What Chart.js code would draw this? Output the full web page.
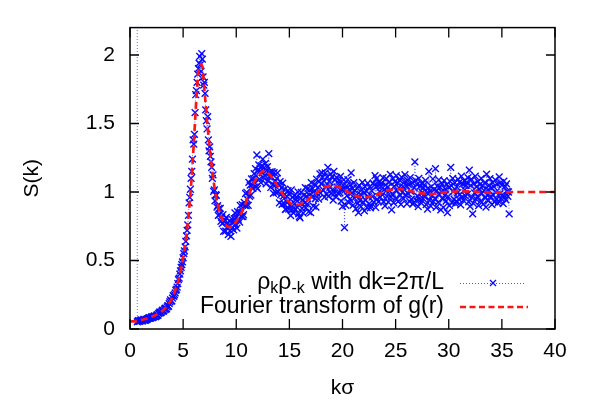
<!DOCTYPE html>
<html>
<head>
<meta charset="utf-8">
<script src="https://cdn.jsdelivr.net/npm/chart.js@4.4.1/dist/chart.umd.min.js"></script>
<style>
  html, body { margin: 0; padding: 0; background: #fff; }
  #wrap { width: 589px; height: 401px; }
</style>
</head>
<body>
<div id="wrap"><canvas id="chart" width="589" height="401"></canvas></div>
<script>
// ============================================================================
// S(k): rho_k rho_-k on the dk = 2pi/L grid vs. Fourier transform of g(r)
// ============================================================================

const FONT = "'Liberation Sans', Arial, sans-serif";

// axis ticks
const kTicks = [0, 5, 10, 15, 20, 25, 30, 35, 40];
const sTicks = [0, 0.5, 1, 1.5, 2];

// Fourier transform of g(r) (smooth red dashed curve)
const fourierK = [
  0, 0.5, 1, 1.5, 2, 2.5, 3, 3.5, 4, 4.25, 4.5, 4.75, 5, 5.25, 5.5, 5.75,
  6, 6.25, 6.5, 6.75, 7, 7.25, 7.5, 7.75, 8, 8.25, 8.5, 8.75, 9, 9.25, 9.5, 9.75,
  10, 10.5, 11, 11.5, 12, 12.5, 13, 13.5, 14, 14.5, 15, 15.5, 16, 16.5, 17, 17.5,
  18, 18.5, 19, 19.5, 20, 20.5, 21, 21.5, 22, 22.5, 23, 23.5, 24, 24.5, 25, 25.5,
  26, 26.5, 27, 27.5, 28, 28.5, 29, 29.5, 30, 31, 32, 33, 34, 35, 36, 37, 38, 39, 40
];
const fourierS = [
  0.055, 0.058, 0.065, 0.075, 0.088, 0.105, 0.13, 0.17, 0.23, 0.28, 0.34, 0.42, 0.52, 0.65, 0.82, 1.05,
  1.35, 1.68, 1.92, 1.93, 1.75, 1.52, 1.32, 1.15, 1.01, 0.91, 0.84, 0.79, 0.76, 0.745, 0.745, 0.76,
  0.785, 0.85, 0.94, 1.04, 1.11, 1.15, 1.14, 1.09, 1.03, 0.97, 0.925, 0.905, 0.91, 0.93, 0.96, 0.99,
  1.02, 1.04, 1.045, 1.04, 1.025, 1.0, 0.98, 0.965, 0.96, 0.965, 0.975, 0.99, 1.005, 1.015, 1.02, 1.02,
  1.015, 1.005, 0.995, 0.99, 0.985, 0.985, 0.99, 0.995, 1.0, 1.005, 1.005, 1.0, 0.995, 0.995, 1.0, 1.0, 1.0, 1.0, 1.0
];

// rho_k rho_-k, sampled on k = rhoK0 + i * rhoDk (dk = 2pi/L), 16 samples per row
const rhoK0 = 0.625;
const rhoDk = 0.0625;
const rhoS = [
  25,
  0.052, 0.057, 0.061, 0.055, 0.058, 0.063, 0.066, 0.060, 0.060, 0.067, 0.071, 0.064, 0.063, 0.070, 0.069, 0.073,   // 0.75
  0.075, 0.079, 0.083, 0.078, 0.079, 0.085, 0.090, 0.084, 0.086, 0.092, 0.095, 0.090, 0.091, 0.098, 0.104, 0.099,   // 1.75
  0.112, 0.118, 0.125, 0.117, 0.121, 0.131, 0.138, 0.129, 0.134, 0.145, 0.152, 0.143, 0.149, 0.162, 0.171, 0.166,   // 2.75
  0.185, 0.198, 0.212, 0.203, 0.205, 0.226, 0.243, 0.238, 0.251, 0.264, 0.282, 0.290, 0.305, 0.332, 0.36, 0.372,    // 3.75
  0.40, 0.425, 0.45, 0.47, 0.49, 0.52, 0.55, 0.57, 0.60, 0.64, 0.68, 0.72, 0.76, 0.83, 0.92, 0.96,                  // 4.75
  1.02, 1.10, 1.15, 1.24, 1.38, 1.35, 1.42, 1.58, 1.71, 1.74, 1.80, 1.86, 1.90, 1.94, 1.99, 1.93,                   // 5.75
  1.88, 2.01, 1.97, 1.84, 1.78, 1.80, 1.72, 1.60, 1.52, 1.46, 1.55, 1.38, 1.30, 1.33, 1.26, 1.22,                   // 6.75
  1.18, 1.10, 1.125, 1.005, 1.015, 0.935, 0.98, 0.975, 0.89, 0.90, 0.83, 0.88, 0.835, 0.88, 0.785, 0.815,           // 7.75
  0.769, 0.834, 0.712, 0.784, 0.795, 0.715, 0.815, 0.743, 0.775, 0.689, 0.752, 0.787, 0.717, 0.676, 0.804, 0.736,   // 8.75
  0.774, 0.723, 0.805, 0.847, 0.764, 0.813, 0.737, 0.856, 0.801, 0.85, 0.781, 0.903, 0.85, 0.822, 0.907, 0.821,     // 9.75
  0.834, 0.924, 0.902, 0.989, 0.90, 0.998, 0.944, 0.903, 1.07, 0.968, 1.05, 0.977, 1.096, 1.053, 1.026, 1.097,      // 10.75
  1.134, 1.067, 1.171, 1.037, 1.27, 1.025, 1.156, 1.197, 1.094, 1.153, 1.068, 1.19, 1.141, 1.24, 1.105, 1.177,      // 11.75
  1.123, 1.208, 1.059, 1.158, 1.185, 1.081, 1.28, 1.111, 1.146, 1.033, 1.109, 1.149, 1.054, 0.99, 1.142, 1.047,     // 12.75
  1.08, 0.995, 1.10, 1.14, 1.0, 1.05, 0.92, 1.075, 0.98, 1.03, 0.91, 1.065, 0.97, 0.915, 1.02, 0.873,               // 13.75
  0.875, 0.97, 0.925, 1.01, 0.875, 0.982, 0.90, 0.827, 1.015, 0.872, 0.96, 0.847, 0.975, 0.915, 0.875, 0.945,       // 14.75
  0.965, 0.887, 1.0, 0.84, 0.82, 0.812, 0.955, 0.997, 0.88, 0.942, 0.845, 0.977, 0.92, 1.032, 0.885, 0.97,          // 15.75
  0.912, 1.027, 0.856, 0.979, 1.015, 0.85, 1.069, 0.964, 1.024, 0.897, 1.001, 1.058, 0.951, 0.89, 1.093, 0.988,     // 16.75
  1.032, 0.949, 1.075, 1.132, 0.992, 1.06, 1.14, 1.109, 1.013, 1.081, 0.963, 1.139, 1.04, 0.987, 1.111, 1.18,       // 17.75
  0.968, 1.078, 1.034, 1.133, 0.99, 1.111, 1.018, 0.941, 1.15, 0.991, 1.09, 0.964, 1.107, 1.036, 0.992, 1.064,      // 18.75
  1.086, 0.993, 1.114, 0.933, 1.021, 0.895, 1.049, 1.088, 0.74, 1.017, 0.902, 1.045, 0.974, 1.09, 0.925, 1.013,     // 19.75
  0.947, 1.054, 1.14, 0.994, 1.025, 0.904, 1.069, 0.956, 1.009, 0.877, 0.976, 1.028, 0.916, 0.85, 1.048, 0.938,     // 20.75
  0.982, 0.894, 1.015, 1.07, 0.927, 0.993, 0.862, 1.037, 0.94, 1.006, 0.886, 1.065, 0.967, 0.914, 1.037, 0.884,     // 21.75
  0.898, 1.009, 0.966, 1.064, 0.927, 1.05, 1.12, 0.887, 1.097, 0.947, 1.045, 0.928, 1.07, 1.004, 0.963, 1.041,      // 22.75
  1.066, 0.981, 1.104, 0.928, 1.019, 0.898, 1.052, 1.097, 0.968, 1.035, 0.926, 1.07, 1.006, 1.128, 0.962, 0.87,     // 23.75
  0.987, 1.097, 0.921, 1.042, 1.075, 0.954, 1.119, 1.009, 1.064, 0.932, 1.031, 1.086, 0.976, 0.91, 1.108, 0.998,    // 24.75
  1.04, 0.952, 1.072, 1.126, 0.981, 1.046, 0.914, 1.085, 0.988, 1.054, 0.932, 1.105, 1.005, 0.948, 1.066, 0.912,    // 25.75
  0.921, 1.031, 1.22, 1.084, 0.94, 1.056, 0.97, 0.894, 1.10, 0.946, 1.043, 0.922, 1.064, 0.997, 0.953, 1.03,        // 26.75
  1.051, 0.963, 1.084, 0.908, 0.996, 0.875, 1.029, 1.15, 0.941, 1.007, 0.897, 1.04, 0.974, 1.095, 0.93, 1.018,      // 27.75
  0.953, 1.17, 0.888, 1.01, 1.043, 0.924, 1.088, 0.979, 1.035, 0.87, 1.003, 1.059, 0.949, 0.887, 1.083, 0.975,      // 28.75
  1.022, 0.934, 1.055, 0.85, 0.967, 1.033, 0.901, 1.077, 1.18, 1.044, 0.923, 1.099, 1.003, 0.948, 1.069, 0.915,     // 29.75
  0.928, 1.038, 0.994, 1.093, 0.95, 1.071, 0.983, 0.906, 1.115, 0.961, 1.06, 0.939, 1.082, 1.016, 0.972, 1.049,     // 30.75
  1.071, 0.983, 1.104, 0.928, 1.16, 0.895, 1.049, 1.093, 0.961, 0.84, 0.917, 1.06, 0.994, 1.115, 0.95, 1.038,      // 31.75
  0.967, 1.077, 0.901, 1.022, 1.055, 0.934, 1.099, 0.989, 1.044, 0.912, 1.011, 1.066, 0.956, 0.89, 1.13, 0.978,     // 32.75
  1.018, 0.938, 1.048, 1.098, 0.968, 1.028, 0.908, 1.068, 0.978, 1.038, 0.928, 1.088, 0.998, 0.948, 1.058, 0.918,   // 33.75
  0.933, 1.11, 0.987, 1.068, 0.951, 1.05, 0.978, 0.915, 1.08, 0.96, 1.041, 0.942, 1.059, 1.005, 0.969, 1.0,         // 34.75
  0.84                                                                                                             // 35.75
];

const BLUE = 'rgb(10, 10, 255)';
const RED = 'rgb(255, 20, 20)';

// frame box + gnuplot-style inward ticks on all four sides
const frameTicks = {
  id: 'frameTicks',
  afterDatasetsDraw(chart) {
    const { ctx, chartArea: a, scales: { x, y } } = chart;
    ctx.save();
    ctx.strokeStyle = '#000';
    ctx.lineWidth = 1.5;
    ctx.strokeRect(a.left, a.top, a.right - a.left, a.bottom - a.top);
    ctx.lineWidth = 1.3;
    ctx.beginPath();
    kTicks.forEach(v => {
      const px = x.getPixelForValue(v);
      ctx.moveTo(px, a.bottom); ctx.lineTo(px, a.bottom - 10);
      ctx.moveTo(px, a.top); ctx.lineTo(px, a.top + 10);
    });
    sTicks.forEach(v => {
      const py = y.getPixelForValue(v);
      ctx.moveTo(a.left, py); ctx.lineTo(a.left + 9, py);
      ctx.moveTo(a.right, py); ctx.lineTo(a.right - 9, py);
    });
    ctx.stroke();
    ctx.restore();
  }
};

// key in the lower right corner, text right-aligned with the sample to its right
const keyBox = {
  id: 'keyBox',
  afterDraw(chart) {
    const { ctx } = chart;
    const textRight = 444;
    const sampleL = 460, sampleR = 526;
    const row1 = 283, row2 = 307;
    const main = `23px ${FONT}`, sub = `16px ${FONT}`;
    ctx.save();
    ctx.fillStyle = '#000';
    ctx.textBaseline = 'middle';
    ctx.textAlign = 'left';

    // row 1: rho_k rho_-k with dk=2pi/L
    const parts = [
      { t: 'ρ', f: main, dy: 0 },
      { t: 'k', f: sub, dy: 6 },
      { t: 'ρ', f: main, dy: 0 },
      { t: '-k', f: sub, dy: 6 },
      { t: ' with dk=2π/L', f: main, dy: 0 }
    ];
    let total = 0;
    parts.forEach(p => { ctx.font = p.f; p.w = ctx.measureText(p.t).width; total += p.w; });
    let cx = textRight - total;
    parts.forEach(p => { ctx.font = p.f; ctx.fillText(p.t, cx, row1 + p.dy); cx += p.w; });

    // row 2
    ctx.font = main;
    ctx.textAlign = 'right';
    ctx.fillText('Fourier transform of g(r)', textRight, row2);

    // samples
    ctx.strokeStyle = 'rgba(10, 10, 255, 0.7)';
    ctx.lineWidth = 1;
    ctx.setLineDash([1, 2]);
    ctx.beginPath(); ctx.moveTo(sampleL, row1 + 0.5); ctx.lineTo(sampleR, row1 + 0.5); ctx.stroke();
    ctx.setLineDash([]);
    ctx.strokeStyle = BLUE;
    ctx.lineWidth = 1.3;
    const m = 3, mx = (sampleL + sampleR) / 2;
    ctx.beginPath();
    ctx.moveTo(mx - m, row1 - m); ctx.lineTo(mx + m, row1 + m);
    ctx.moveTo(mx - m, row1 + m); ctx.lineTo(mx + m, row1 - m);
    ctx.stroke();

    ctx.strokeStyle = RED;
    ctx.lineWidth = 2.4;
    ctx.setLineDash([6, 3.5]);
    ctx.beginPath(); ctx.moveTo(sampleL, row2); ctx.lineTo(sampleR + 2, row2); ctx.stroke();
    ctx.restore();
  }
};

const fourierPoints = fourierK.map((k, i) => ({ x: k, y: fourierS[i] }));
const rhoPoints = rhoS.map((s, i) => ({ x: rhoK0 + i * rhoDk, y: s }));

const tickFont = { family: FONT, size: 21 };

new Chart(document.getElementById('chart'), {
  type: 'scatter',
  data: {
    datasets: [
      {
        label: 'Fourier transform of g(r)',
        data: fourierPoints,
        showLine: true,
        borderColor: RED,
        borderWidth: 2.7,
        borderDash: [7, 4],
        pointRadius: 0,
        cubicInterpolationMode: 'monotone'
      },
      {
        label: 'ρkρ-k with dk=2π/L',
        data: rhoPoints,
        showLine: true,
        borderColor: 'rgba(10, 10, 255, 0.6)',
        borderWidth: 1,
        borderDash: [1, 2],
        pointStyle: 'crossRot',
        pointRadius: 4.8,
        pointBorderWidth: 1.4,
        pointBorderColor: BLUE,
        pointBackgroundColor: BLUE
      }
    ]
  },
  options: {
    responsive: false,
    animation: false,
    devicePixelRatio: 1,
    layout: { padding: { left: 0, right: 34, top: 9, bottom: 0 } },
    plugins: {
      legend: { display: false },
      tooltip: { enabled: false }
    },
    scales: {
      x: {
        type: 'linear',
        min: 0,
        max: 40,
        afterFit(scale) { scale.height = 72; },
        grid: { display: false, drawTicks: false },
        border: { display: false },
        ticks: { stepSize: 5, padding: 10, color: '#000', font: tickFont, maxRotation: 0 },
        title: { display: true, text: 'kσ', color: '#000', font: tickFont, padding: { top: 0, bottom: 0 } }
      },
      y: {
        type: 'linear',
        min: 0,
        max: 2.2,
        afterFit(scale) { scale.width = 130; },
        grid: { display: false, drawTicks: false },
        border: { display: false },
        ticks: {
          stepSize: 0.5,
          includeBounds: false,
          padding: 15,
          color: '#000',
          font: tickFont,
          callback: v => String(v)
        },
        title: { display: true, text: 'S(k)', color: '#000', font: tickFont, padding: { top: 20, bottom: 0 } }
      }
    }
  },
  plugins: [frameTicks, keyBox]
});
</script>
</body>
</html>
